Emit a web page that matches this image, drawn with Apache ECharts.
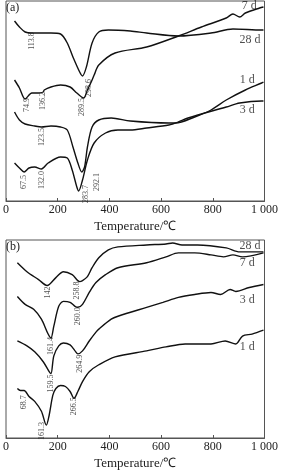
<!DOCTYPE html>
<html>
<head>
<meta charset="utf-8">
<script src="https://cdn.jsdelivr.net/npm/echarts@6/dist/echarts.min.js"></script>
<style>
  html, body { margin: 0; padding: 0; background: #fff; }
  #chart { width: 281px; height: 471px; }
</style>
</head>
<body>
<div id="chart"></div>
<script>
// x = temperature (℃), y = heat flow (arbitrary units, offset per curve)
const xTicks = [0, 200, 400, 600, 800, 1000];

// panel (a)
const a28 = [[33,180],[52,174],[74,169],[100,168],[174,168],[211,167],[237,158],[259,144],[285,129],[296,125],[311,134],[333,158],[359,169],[396,171],[481,170],[544,168],[667,165],[793,168],[878,172],[989,171],[996,171]];
const a7 = [[33,121],[52,113],[74,102],[100,108],[126,108],[144,109],[148,111],[174,114],[211,116],[248,114],[274,108],[300,103],[315,111],[333,121],[341,126],[359,136],[422,148],[544,154],[667,165],[756,174],[852,183],[878,187],[904,184],[926,188],[981,193],[996,194]];
const a1 = [[33,89],[52,81],[74,77],[111,75],[137,74],[174,75],[211,74],[237,71],[259,54],[278,38],[293,29],[304,34],[315,54],[333,74],[359,81],[407,83],[481,80],[630,78],[656,78],[730,84],[793,91],[852,101],[926,111],[989,118],[996,119]];
const a3 = [[33,38],[52,33],[70,29],[89,33],[111,34],[137,32],[163,38],[211,44],[237,43],[256,31],[274,14],[281,10],[296,21],[315,41],[341,58],[385,68],[433,71],[481,71],[544,73],[630,76],[667,79],[704,83],[852,94],[904,98],[989,100],[996,100]];
const aPeaks = [[100,160,'113.8'],[81,96,'74.9'],[144,100,'136.2'],[293,94,'289.5'],[322,113,'298.6'],[137,64,'123.5'],[70,19,'67.5'],[137,21,'132.0'],[311,7,'283.7'],[352,19,'292.1']];
const aNames = [[941,195,'7 d'],[944,161,'28 d'],[933,121,'1 d'],[933,91,'3 d']];

// panel (b)
const b28 = [[44,177],[81,168],[126,160],[159,154],[193,162],[222,168],[256,165],[285,158],[296,159],[315,163],[333,172],[359,182],[396,190],[433,193],[544,195],[619,196],[644,197],[681,195],[741,195],[852,192],[904,188],[952,188],[996,188]];
const b7 = [[44,143],[74,135],[107,130],[137,120],[163,105],[174,101],[185,113],[204,133],[222,138],[248,137],[267,133],[278,132],[296,135],[322,147],[348,157],[385,165],[433,172],[544,177],[619,183],[667,187],[730,187],[793,185],[841,183],[878,185],[915,183],[996,187]];
const b3 = [[44,98],[81,93],[111,87],[144,77],[167,67],[174,65],[185,83],[204,93],[222,96],[248,94],[267,88],[278,85],[296,88],[322,98],[348,107],[359,110],[407,120],[433,123],[544,132],[607,137],[667,142],[730,145],[793,147],[830,145],[867,150],[889,148],[941,152],[996,155]];
const b1 = [[44,50],[56,48],[70,48],[89,42],[111,37],[137,27],[156,13],[167,23],[181,43],[193,50],[211,53],[230,52],[248,47],[263,40],[278,47],[296,57],[322,67],[359,74],[422,82],[544,88],[619,92],[693,95],[793,95],[848,98],[889,95],[915,103],[952,105],[996,109]];
const bPeaks = [[163,147,'142'],[274,149,'258.8'],[278,123,'260.0'],[174,93,'161.4'],[174,55,'159.5'],[285,75,'264.9'],[70,36,'68.7'],[137,7,'161.3'],[263,32,'266.5']];
const bNames = [[944,194,'28 d'],[933,177,'7 d'],[933,140,'3 d'],[933,92,'1 d']];

const font = 'Liberation Serif';
const chart = echarts.init(document.getElementById('chart'), null, { renderer: 'canvas' });

function xAxis(idx) {
  return {
    gridIndex: idx,
    type: 'value',
    min: 0,
    max: 1000,
    interval: 200,
    name: 'Temperature/℃',
    nameLocation: 'middle',
    nameGap: 19,
    nameTextStyle: { fontFamily: font, fontSize: 13, color: '#222' },
    axisLine: { lineStyle: { color: '#555', width: 1 } },
    axisTick: { inside: true, length: 3, lineStyle: { color: '#555' } },
    axisLabel: {
      margin: 3,
      fontFamily: font,
      fontSize: 12,
      color: '#222',
      formatter: (v) => (v === 1000 ? '1 000' : String(v))
    },
    splitLine: { show: false }
  };
}

function yAxis(idx) {
  return { gridIndex: idx, type: 'value', min: 0, max: 200, show: false };
}

function curve(data, idx) {
  return {
    type: 'line',
    xAxisIndex: idx,
    yAxisIndex: idx,
    data: data,
    smooth: 0.3,
    symbol: 'none',
    lineStyle: { color: '#111', width: 1.4 },
    silent: true
  };
}

function texts(data, idx, rotate, size) {
  return {
    type: 'scatter',
    xAxisIndex: idx,
    yAxisIndex: idx,
    data: data,
    symbolSize: 0,
    silent: true,
    label: {
      show: true,
      position: 'inside',
      rotate: rotate,
      fontFamily: font,
      fontSize: size,
      color: '#222',
      formatter: (p) => p.data[2]
    }
  };
}

chart.setOption({
  animation: false,
  grid: [
    { left: 3, right: 8, top: 1, height: 200, show: true, borderColor: '#555', borderWidth: 1 },
    { left: 3, right: 8, top: 240, height: 200, show: true, borderColor: '#555', borderWidth: 1 }
  ],
  xAxis: [xAxis(0), xAxis(1)],
  yAxis: [yAxis(0), yAxis(1)],
  graphic: [
    { type: 'text', left: 6, top: 2, style: { text: '(a)', font: '12px "Liberation Serif"', fill: '#222' } },
    { type: 'text', left: 6, top: 241, style: { text: '(b)', font: '12px "Liberation Serif"', fill: '#222' } }
  ],
  series: [
    curve(a28, 0), curve(a7, 0), curve(a1, 0), curve(a3, 0),
    texts(aPeaks, 0, 90, 8),
    texts(aNames, 0, 0, 12),
    curve(b28, 1), curve(b7, 1), curve(b3, 1), curve(b1, 1),
    texts(bPeaks, 1, 90, 8),
    texts(bNames, 1, 0, 12)
  ]
});
</script>
</body>
</html>
